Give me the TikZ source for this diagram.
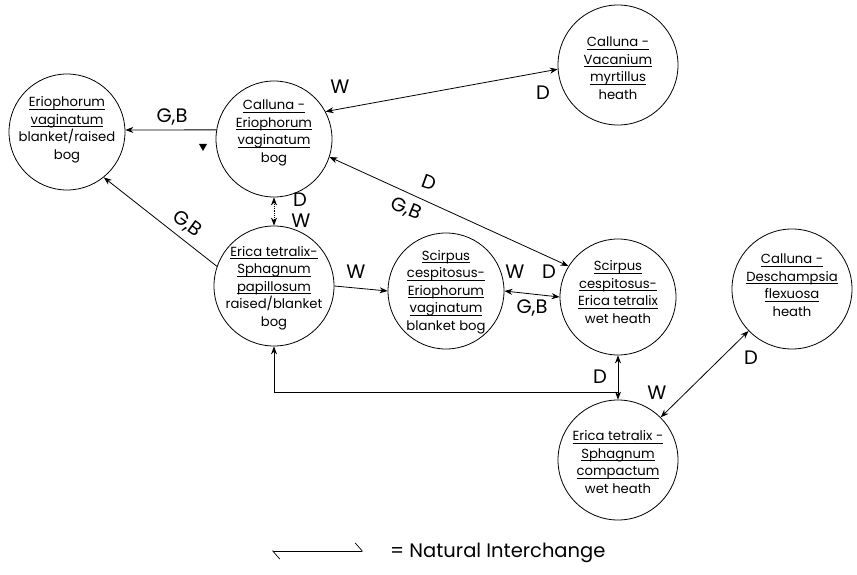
\documentclass[tikz,border=0pt]{standalone}
\usepackage{fontspec}
\setmainfont{Poppins}
\usetikzlibrary{arrows.meta}
\newcommand{\ulx}[1]{\setbox0=\hbox{#1}\rlap{\copy0}\rule[-2.6pt]{\wd0}{0.6pt}}
\begin{document}
\begin{tikzpicture}[x=1pt,y=-1pt,
  >={Stealth[length=8pt,width=6pt]},
  hab/.style={circle,draw,line width=0.8pt,minimum size=116pt,inner sep=0pt},
  habL/.style={hab,minimum size=120pt},
  txt/.style={align=center,inner sep=0pt,font=\fontsize{13.2}{17.5}\selectfont},
  lbl/.style={font=\fontsize{19.5}{19.5}\selectfont,inner sep=0pt},
  link/.style={line width=0.8pt},
  legendtext/.style={font=\fontsize{19.5}{19.5}\selectfont,inner sep=0pt,anchor=west}]
\useasboundingbox (0,0) rectangle (857,575);
\fill[white] (0,0) rectangle (857,575);

% habitats
\node[hab]  (n1) at (67,132)  {};
\node[hab]  (n2) at (274,139) {};
\node[habL] (n3) at (618,65)  {};
\node[habL] (n4) at (274,286) {};
\node[hab]  (n5) at (446,291) {};
\node[hab]  (n6) at (618,297) {};
\node[habL] (n7) at (792,289) {};
\node[habL] (n8) at (618,460) {};

\node[txt] (t1) at (67,130) {\ulx{Eriophorum}\\\ulx{vaginatum}\\blanket/raised\\bog};
\node[txt] (t2) at (274,133) {\ulx{Calluna -}\\\ulx{Eriophorum}\\\ulx{vaginatum}\\bog};
\node[txt] (t3) at (618,68) {\ulx{Calluna -}\\\ulx{Vacanium}\\\ulx{myrtillus}\\heath};
\node[txt] (t4) at (274,288) {\ulx{Erica tetralix-}\\\ulx{Sphagnum}\\\ulx{papillosum}\\raised/blanket\\bog};
\node[txt] (t5) at (446,292) {\ulx{Scirpus}\\\ulx{cespitosus-}\\\ulx{Eriophorum}\\\ulx{vaginatum}\\blanket bog};
\node[txt] (t6) at (618,292) {\ulx{Scirpus}\\\ulx{cespitosus-}\\\ulx{Erica tetralix}\\wet heath};
\node[txt] (t7) at (792,285) {\ulx{Calluna -}\\\ulx{Deschampsia}\\\ulx{flexuosa}\\heath};
\node[txt] (t8) at (618,462) {\ulx{Erica tetralix -}\\\ulx{Sphagnum}\\\ulx{compactum}\\wet heath};

% connectors
\draw[link,->]  (n2.171) -- (n1.2);
\draw[link,<->] (n2.28) -- (n3.184);
\draw[link,<->] (n2.-18) -- (n6.148);
\draw[link,<->,densely dotted] (n2.south) -- (n4.north);
\draw[link,->]  (n4.161) -- (n1.-51);
\draw[link,->]  (n4.east) -- (n5.west);
\draw[link,<->] (n5.east) -- (n6.west);
\coordinate (J) at (618,392);
\draw[link,<->] (n4.south) -- (n4.south |- J) -- (J) -- (n8.north);
\draw[link,<-]  (n6.south) -- (J);
\draw[link,<->] (n7.224) -- (n8.45);
\fill (199,144) -- (207,144) -- (203,151) -- cycle;

% labels
\node[lbl] (l1) at (172,117) {G,B};
\node[lbl] (l2) at (340,87) {W};
\node[lbl] (l3) at (543,93) {D};
\node[lbl,rotate=-20] (l4) at (429,182) {D};
\node[lbl,rotate=-22] (l5) at (406,209) {G,B};
\node[lbl] (l6) at (300,200) {D};
\node[lbl] (l7) at (301,221) {W};
\node[lbl,rotate=-36] (l8) at (187,224) {G,B};
\node[lbl] (l9) at (356,272) {W};
\node[lbl] (l10) at (515,272) {W};
\node[lbl] (l11) at (549,272) {D};
\node[lbl] (l12) at (532,308) {G,B};
\node[lbl] (l13) at (600,377) {D};
\node[lbl] (l14) at (751,358) {D};
\node[lbl] (l15) at (657,393) {W};

% legend
\coordinate (L1) at (272,551);
\coordinate (L2) at (363,551);
\draw[line width=0.7pt,{Straight Barb[left,length=7pt,width=16pt]}-{Straight Barb[left,length=7pt,width=16pt]}] (L1) -- (L2);
\node[legendtext] (leg) at (390,553) {= Natural Interchange};
\end{tikzpicture}
\end{document}
